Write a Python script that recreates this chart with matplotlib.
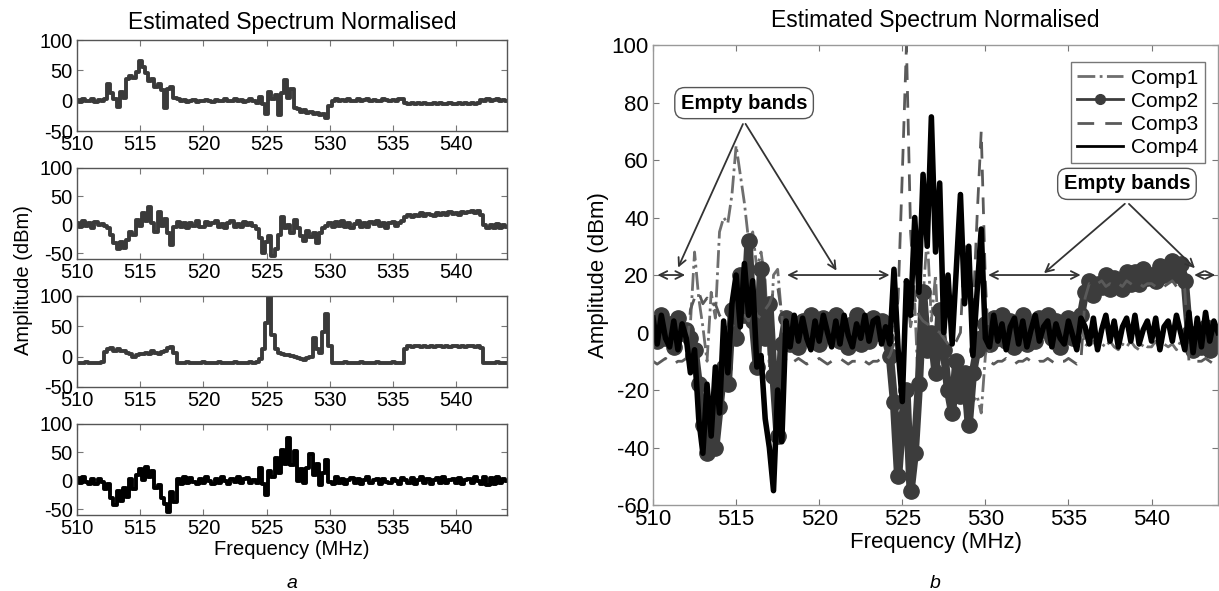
# Estimated spectrum normalised - 4 components (a) and overlay (b)
import numpy as np
import matplotlib
matplotlib.use('Agg')
from matplotlib import pyplot as plt

plt.rcParams['font.family'] = ['Liberation Sans', 'DejaVu Sans']
plt.rcParams['axes.unicode_minus'] = False

# frequency grid, 0.25 MHz steps from 510 to 544
freq = np.arange(510, 544.001, 0.25)

# one row = one MHz (4 samples)
comp1 = [1, -2, 2, -1,
         0, 2, -2, 1,
         -1, 3, 28, 12,
         2, -10, 14, 5,
         35, 40, 38, 48,
         65, 55, 45, 32,
         35, 22, 28, 18,
         -12, 20, 22, 5,
         2, -1, 1, -2,
         0, 1, -2, 0,
         -1, 1, 0, -2,
         1, -1, 0, 2,
         -1, 0, 2, -1,
         1, -2, 0, 3,
         0, -4, 6, -6,
         -22, 14, 2, 10,
         -24, 12, 34, 4,
         20, -12, -14, -18,
         -16, -20, -18, -22,
         -20, -24, -22, -28,
         -8, 0, 2, -1,
         1, 0, 2, -1,
         0, 2, -1, 1,
         2, 0, 1, -1,
         0, 2, 1, 0,
         1, -1, 2, 3,
         -4, -5, -3, -6,
         -4, -5, -3, -5,
         -6, -4, -5, -3,
         -5, -6, -4, -5,
         -5, -3, -6, -4,
         -5, -4, -6, -3,
         1, 0, 2, -1,
         1, 2, 0, 1,
         0]

comp2 = [4, -3, 6, -2,
         3, -5, 5, 0,
         1, -2, -6, -18,
         -32, -42, -30, -40,
         -26, -12, -18, 8,
         -2, 20, 6, 32,
         4, -12, 22, -2,
         10, -15, -36, -4,
         5, -4, 3, -5,
         4, -2, 6, -3,
         -4, 5, -1, 4,
         6, -3, 2, -5,
         3, 6, -4, 2,
         -3, 5, 0, 4,
         -2, -8, -24, -50,
         -30, -20, -55, -42,
         -18, 14, -6, 0,
         -14, 8, -6, -20,
         -28, -10, -22, -14,
         -32, -14, -6, -2,
         3, -4, 5, -2,
         6, -3, 4, -5,
         2, 6, -4, 3,
         -3, 5, 1, 6,
         -2, 4, -5, 3,
         5, -2, 4, 6,
         14, 18, 13, 17,
         16, 20, 15, 19,
         18, 15, 21, 17,
         21, 17, 22, 19,
         20, 18, 23, 20,
         22, 25, 20, 24,
         18, 0, -6, -1,
         -5, 2, -6, -1,
         -3]

comp3 = [-10, -11, -10, -9,
         -10, -11, -10, -10,
         -9, 8, 12, 14,
         10, 12, 9, 10,
         6, 4, 0, 2,
         4, 5, 6, 4,
         10, 6, 5, 8,
         10, 14, 16, 6,
         -10, -11, -10, -9,
         -10, -11, -10, -10,
         -9, -10, -11, -10,
         -10, -9, -10, -11,
         -10, -10, -9, -10,
         -11, -10, -10, -9,
         -10, -8, -4, 12,
         55, 100, 35, 12,
         6, 4, 3, 2,
         1, 0, -2, -4,
         -5, -3, 0, 30,
         12, 6, 40, 70,
         18, -10, -11, -10,
         -10, -9, -10, -11,
         -10, -10, -9, -10,
         -11, -10, -10, -9,
         -10, -11, -10, -10,
         -9, -10, -11, -10,
         12, 17, 16, 17,
         18, 16, 17, 16,
         17, 16, 18, 17,
         16, 17, 16, 17,
         17, 16, 17, 16,
         17, 18, 16, 17,
         15, -10, -11, -10,
         -10, -9, -10, -11,
         -10]

comp4 = [5, -4, 6, -2,
         -5, 4, -6, 3,
         -2, -14, -6, -30,
         -42, -18, -36, -12,
         -28, 4, -14, 10,
         20, 2, 24, 6,
         18, -12, -8, -30,
         -40, -55, -20, -38,
         4, -5, 6, -3,
         5, -2, -6, 4,
         -3, 6, 0, -5,
         4, -4, 6, -1,
         -5, 3, -2, 6,
         -3, 4, 5, -4,
         2, -4, 22, -6,
         -24, 18, 6, 40,
         14, 55, 30, 75,
         28, 52, 0, 20,
         -4, 22, 48, 10,
         30, -8, 14, 36,
         -2, -5, 6, -3,
         3, -6, 2, 5,
         -4, 4, -5, 1,
         6, -3, 2, 4,
         -5, 3, -2, -4,
         4, -1, -6, 5,
         2, -4, 5, -6,
         1, 6, -3, 4,
         -5, 2, 5, -3,
         6, -4, 1, 4,
         -3, 5, -6, 2,
         4, -3, 6, 0,
         -6, 7, -7, 5,
         -5, 7, -3, 4,
         0]

comps = [comp1, comp2, comp3, comp4]
left_ylims = [(-50, 100), (-60, 100), (-50, 100), (-60, 100)]

# empty bands (MHz) marked with double arrows at 20 dBm
empty_bands = [(510.1, 512.1), (517.9, 524.4), (530.0, 535.9), (542.4, 544.0)]

xticks = [510, 515, 520, 525, 530, 535, 540]

fig = plt.figure(figsize=(12.19, 5.91), dpi=100)


def style_axes(ax, fs):
    ax.set_xlim(510, 544)
    ax.set_xticks(xticks)
    ax.tick_params(direction='in', top=True, right=True, length=4,
                   color='#777777', labelsize=fs, pad=3)
    for s in ax.spines.values():
        s.set_color('#555555')
        s.set_linewidth(1.0)


# ---- (a) four separate panels
left_bottoms = [0.7783, 0.5618, 0.3452, 0.1286]
left_colors = ['#3a3a3a', '#3a3a3a', '#3a3a3a', '#000000']
for i in range(4):
    ax = fig.add_axes([0.0632, left_bottoms[i], 0.3527, 0.154])
    ax.plot(freq, comps[i], color=left_colors[i], lw=2.8, drawstyle='steps-mid')
    style_axes(ax, 14.5)
    ax.set_ylim(*left_ylims[i])
    ax.set_yticks([-50, 0, 50, 100])
    if i == 0:
        ax.set_title('Estimated Spectrum Normalised', fontsize=16.5, pad=8)
    if i == 3:
        ax.set_xlabel('Frequency (MHz)', fontsize=14.5, labelpad=1)

fig.text(0.019, 1 - 280 / 591, 'Amplitude (dBm)', rotation=90, fontsize=14.5,
         ha='center', va='center')
fig.text(292 / 1219, 1 - 583 / 591, 'a', fontsize=14, style='italic',
         ha='center', va='center')

# ---- (b) overlay
ax = fig.add_axes([0.5357, 0.1455, 0.4635, 0.7783])
ax.plot(freq, comp1, color='#6e6e6e', lw=2, ls='-.', label='Comp1')
ax.plot(freq, comp2, color='#3c3c3c', lw=6, marker='o', ms=11, label='Comp2')
ax.plot(freq, comp3, color='#5a5a5a', lw=2, ls=(0, (6, 4)), label='Comp3')
ax.plot(freq, comp4, color='#000000', lw=4, label='Comp4')
style_axes(ax, 16)
for s in ax.spines.values():
    s.set_color('#999999')
ax.set_ylim(-60, 100)
ax.set_yticks(np.arange(-60, 101, 20))
ax.set_title('Estimated Spectrum Normalised', fontsize=16.5, pad=13)
ax.set_xlabel('Frequency (MHz)', fontsize=16, labelpad=1)
ax.set_ylabel('Amplitude (dBm)', fontsize=16, labelpad=2)

leg = ax.legend(loc='upper right', bbox_to_anchor=(0.995, 0.985), fontsize=15,
                handlelength=2.2, handletextpad=0.4, borderpad=0.3,
                labelspacing=0.2, fancybox=False, framealpha=1)
leg.get_frame().set_edgecolor('#777777')
leg.get_frame().set_linewidth(1.0)
for h in leg.get_lines():
    h.set_linewidth(2)
    h.set_markersize(7)

arrow_kw = dict(arrowstyle='<->', color='#333333', lw=1.3, mutation_scale=14)
for lo, hi in empty_bands:
    ax.annotate('', xy=(lo, 20), xytext=(hi, 20), arrowprops=arrow_kw)

box_kw = dict(boxstyle='round,pad=0.3,rounding_size=0.5', fc='white',
              ec='#555555', lw=1.0)
head_kw = dict(arrowstyle='->', color='#333333', lw=1.3, mutation_scale=14)

ax.text(515.48, 79.8, 'Empty bands', fontsize=14.5, fontweight='bold',
        ha='center', va='center', bbox=box_kw, zorder=5)
for tx, ty in [(511.44, 21.7), (521.13, 20.7)]:
    ax.annotate('', xy=(tx, ty), xytext=(515.48, 73.4), arrowprops=head_kw)

ax.text(538.52, 51.7, 'Empty bands', fontsize=14.5, fontweight='bold',
        ha='center', va='center', bbox=box_kw, zorder=5)
for tx, ty in [(533.4, 20.0), (542.73, 21.7)]:
    ax.annotate('', xy=(tx, ty), xytext=(538.52, 45.4), arrowprops=head_kw)

fig.text(935 / 1219, 1 - 583 / 591, 'b', fontsize=14, style='italic',
         ha='center', va='center')

fig.savefig('out.png', dpi=100)
